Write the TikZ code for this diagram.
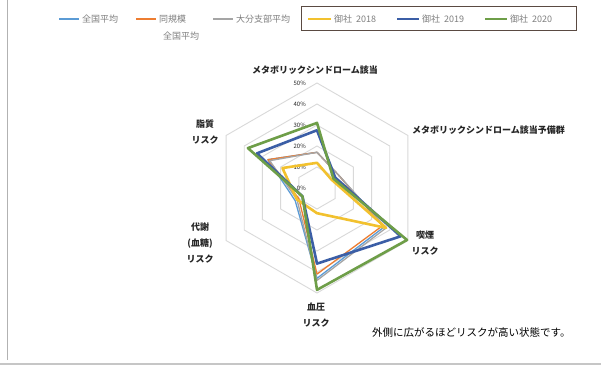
\documentclass[tikz,border=0pt]{standalone}
\usepackage{fontspec}
\newfontfamily\jp{Noto Sans CJK JP}
\definecolor{cAll}{HTML}{5B9BD5}
\definecolor{cSame}{HTML}{ED7D31}
\definecolor{cOita}{HTML}{A5A5A5}
\definecolor{cY18}{HTML}{F2C12E}
\definecolor{cY19}{HTML}{3B5EA6}
\definecolor{cY20}{HTML}{6E9E48}
\definecolor{gridc}{HTML}{D9D9D9}
\definecolor{boxc}{HTML}{5A4A42}
\definecolor{labc}{HTML}{262626}
\definecolor{legc}{HTML}{7F7F7F}
\newcommand\radarline[7]{\draw[#1] (-90:#2*2.1) -- (-30:#3*2.1) -- (30:#4*2.1) -- (90:#5*2.1) -- (150:#6*2.1) -- (210:#7*2.1) -- cycle;}
\tikzset{
  gridline/.style={draw=gridc, line width=0.9},
  avgline/.style={line width=1.3, line join=round},
  ownline/.style={line width=2.6, line join=round},
  legline/.style={line width=2},
  legtext/.style={font=\jp\fontsize{9}{11}\selectfont, text=legc, inner sep=1, anchor=west},
  axlab/.style={font=\jp\bfseries\fontsize{9}{16}\selectfont, text=labc, inner sep=0, align=center},
  pct/.style={font=\jp\fontsize{6}{7}\selectfont, text=labc, inner sep=0, anchor=east},
}
\begin{document}
\begin{tikzpicture}[x=1pt,y=-1pt]
\useasboundingbox (0,0) rectangle (601,367);
\fill[white] (0,0) rectangle (601,367);
\draw[gray!60, line width=1] (7,0) -- (7,360);
\draw[gray!45, line width=1.2] (0,364) -- (601,364);
% legend
\coordinate (l1a) at (59,19); \coordinate (l1b) at (79,19);
\draw[legline, cAll] (l1a) -- (l1b);
\node[legtext] (t1) at (81,19) {全国平均};
\coordinate (l2a) at (136,19); \coordinate (l2b) at (156,19);
\draw[legline, cSame] (l2a) -- (l2b);
\node[legtext] (t2) at (158,19) {同規模};
\node[legtext] (t2b) at (162,36) {全国平均};
\coordinate (l3a) at (213,19); \coordinate (l3b) at (233,19);
\draw[legline, cOita] (l3a) -- (l3b);
\node[legtext] (t3) at (235,19) {大分支部平均};
\draw[boxc, line width=1] (301,6) rectangle (576,30);
\coordinate (l4a) at (308,19); \coordinate (l4b) at (331,19);
\draw[legline, cY18] (l4a) -- (l4b);
\node[legtext] (t4) at (333,19) {御社\ \ 2018};
\coordinate (l5a) at (397,19); \coordinate (l5b) at (419,19);
\draw[legline, cY19] (l5a) -- (l5b);
\node[legtext] (t5) at (421,19) {御社\ \ 2019};
\coordinate (l6a) at (485,19); \coordinate (l6b) at (507,19);
\draw[legline, cY20] (l6a) -- (l6b);
\node[legtext] (t6) at (509,19) {御社\ \ 2020};
% radar
\begin{scope}[shift={(317,188)}]
  \foreach \r in {1,...,5}
    \draw[gridline] (-90:\r*21) -- (-30:\r*21) -- (30:\r*21) -- (90:\r*21) -- (150:\r*21) -- (210:\r*21) -- cycle;
  \foreach \v [count=\i from 0] in {0\%,10\%,20\%,30\%,40\%,50\%}
    \node[pct] (p\i) at (-11,-\i*21) {\v};
  \radarline{avgline, cAll}{17}{12}{37}{43}{12}{27}
  \radarline{avgline, cSame}{17}{12}{36}{41}{10}{27}
  \radarline{avgline, cOita}{17}{12}{38}{44}{11}{26}
  \radarline{ownline, cY18}{12}{8}{38}{12}{11}{19}
  \radarline{ownline, cY19}{27.5}{10}{46}{36}{8}{33}
  \radarline{ownline, cY20}{31}{9}{49.5}{48.5}{8}{38}
\end{scope}
% axis labels
\node[axlab] (axTop) at (315,70) {メタボリックシンドローム該当};
\node[axlab, anchor=west] (axUR) at (412,130) {メタボリックシンドローム該当予備群};
\node[axlab] (axLR) at (425,243) {喫煙\\リスク};
\node[axlab] (axBot) at (316,315) {血圧\\リスク};
\node[axlab] (axLL) at (200,243) {代謝\\(血糖)\\リスク};
\node[axlab] (axUL) at (205,132) {脂質\\リスク};
\node[font=\jp\fontsize{10.5}{12}\selectfont, text=black, anchor=west, inner sep=0] (note) at (372,332) {外側に広がるほどリスクが高い状態です。};
\end{tikzpicture}
\end{document}
